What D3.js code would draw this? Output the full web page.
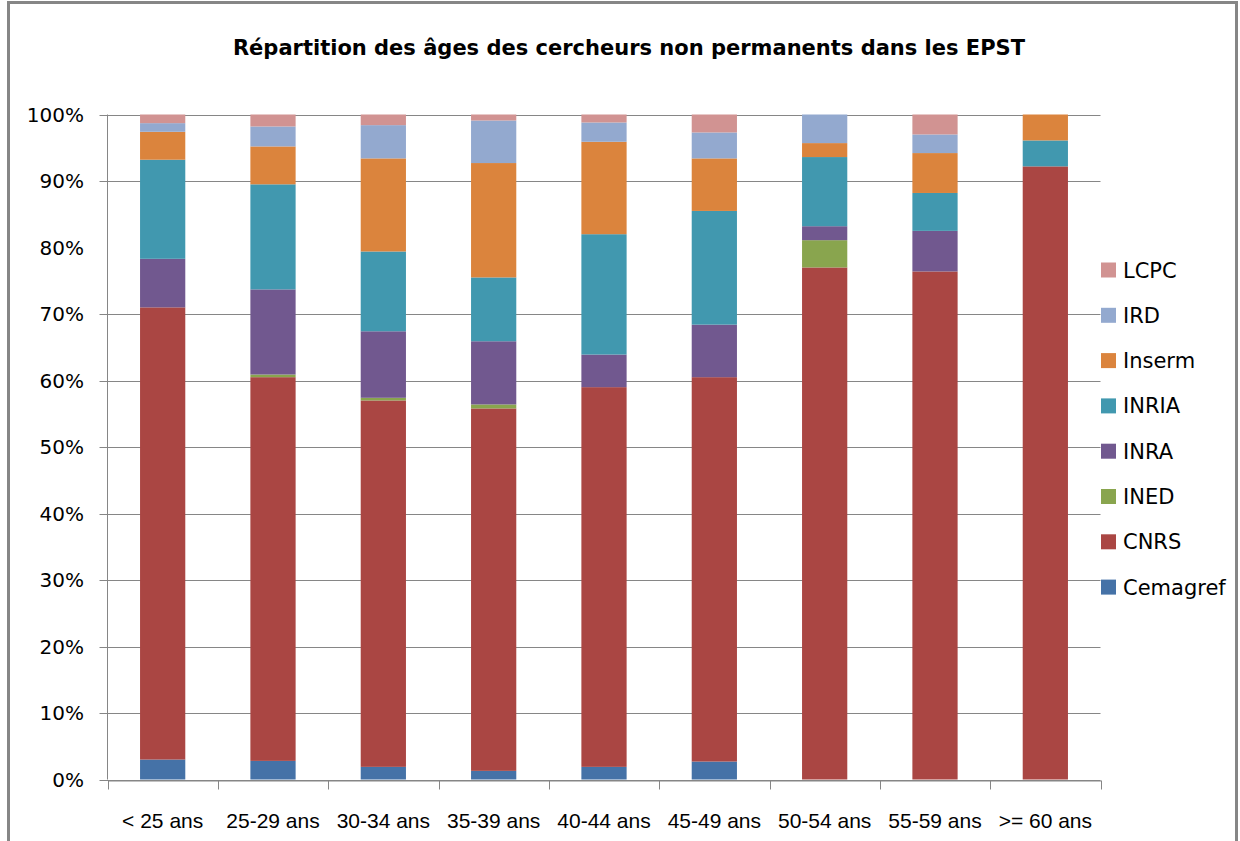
<!DOCTYPE html>
<html>
<head>
<meta charset="utf-8">
<script src="https://cdn.jsdelivr.net/npm/d3@7"></script>
<style>
  body { margin: 0; background: #fff; }
  svg { display: block; }
</style>
</head>
<body>
<div id="chart"></div>
<script>
// categories and series, values in % of each age group
const categories = ['< 25 ans', '25-29 ans', '30-34 ans', '35-39 ans', '40-44 ans',
                    '45-49 ans', '50-54 ans', '55-59 ans', '>= 60 ans'];
const seriesNames = ['Cemagref', 'CNRS', 'INED', 'INRA', 'INRIA', 'Inserm', 'IRD', 'LCPC'];
const cemagref = [3.0, 2.8, 1.9, 1.3, 1.9, 2.7, 0, 0, 0];
const cnrs     = [68.0, 57.7, 55.1, 54.5, 57.1, 57.8, 77.0, 76.4, 92.2];
const ined     = [0, 0.4, 0.4, 0.6, 0, 0, 4.1, 0, 0];
const inra     = [7.3, 12.8, 10.0, 9.5, 4.9, 7.9, 2.1, 6.1, 0];
const inria    = [14.9, 15.8, 12.0, 9.6, 18.1, 17.1, 10.4, 5.7, 3.9];
const inserm   = [4.2, 5.7, 14.0, 17.2, 13.9, 7.9, 2.1, 6.0, 3.9];
const ird      = [1.3, 3.0, 5.0, 6.4, 2.9, 3.9, 4.3, 2.8, 0];
const lcpc     = [1.3, 1.8, 1.6, 0.9, 1.2, 2.7, 0, 3.0, 0];
const yTicks   = [0, 10, 20, 30, 40, 50, 60, 70, 80, 90, 100];
// the 80% gridline does not show in the reference picture
const gridTicks = [0, 10, 20, 30, 40, 50, 60, 70, 90, 100];
const colors = ['#4572A7', '#AA4643', '#89A54E', '#71588F', '#4198AF', '#DB843D', '#93A9CF', '#D19392'];

const width = 1240, height = 841;
const margin = {top: 115, right: 140, bottom: 61, left: 107.5};
const grey = '#868686';

// table for d3.stack
const seriesValues = [cemagref, cnrs, ined, inra, inria, inserm, ird, lcpc];
const table = categories.map((c, i) => {
    let row = {cat: c};
    seriesNames.forEach((s, j) => row[s] = seriesValues[j][i]);
    return row;
});
const stacked = d3.stack().keys(seriesNames)(table);

const svg = d3.select('#chart').append('svg')
    .attr('width', width)
    .attr('height', height);

// outer frame of the chart object
svg.append('rect')
    .attr('x', 8.5).attr('y', 2.5)
    .attr('width', 1228).attr('height', 900)
    .attr('fill', 'none')
    .attr('stroke', grey)
    .attr('stroke-width', 3);

const scaleX = d3.scaleBand()
    .domain(categories)
    .range([margin.left, 1100.5])
    .paddingInner(0.59)
    .paddingOuter(0.295);

const scaleY = d3.scaleLinear()
    .domain([0, 100])
    .range([height - margin.bottom - 0.5, margin.top - 0.5]);

// gridlines
svg.append('g')
    .selectAll('line')
    .data(gridTicks)
    .join('line')
    .attr('x1', margin.left - 8)
    .attr('x2', 1100.5)
    .attr('y1', d => Math.round(scaleY(d)) + 0.5)
    .attr('y2', d => Math.round(scaleY(d)) + 0.5)
    .attr('stroke', grey)
    .attr('stroke-width', 1);

// y labels
svg.append('g')
    .selectAll('text')
    .data(yTicks)
    .join('text')
    .attr('x', 84)
    .attr('y', d => scaleY(d))
    .attr('dy', '0.36em')
    .attr('text-anchor', 'end')
    .style('font-family', '"DejaVu Sans", sans-serif')
    .style('font-size', '20px')
    .attr('fill', '#000')
    .text(d => d + '%');

// bars
svg.append('g')
    .selectAll('g')
    .data(stacked)
    .join('g')
    .attr('fill', (d, i) => colors[i])
    .selectAll('rect')
    .data(d => d)
    .join('rect')
    .attr('x', d => scaleX(d.data.cat))
    .attr('width', scaleX.bandwidth())
    .attr('y', d => scaleY(d[1]))
    .attr('height', d => scaleY(d[0]) - scaleY(d[1]));

// y axis line
svg.append('line')
    .attr('x1', margin.left).attr('x2', margin.left)
    .attr('y1', scaleY(100)).attr('y2', scaleY(0))
    .attr('stroke', grey);

// x axis with ticks between the bands
const axisX = d3.axisBottom(scaleX).tickSize(0).tickPadding(0);
const gx = svg.append('g')
    .attr('transform', `translate(0,${Math.round(scaleY(0)) + 0.5})`)
    .call(axisX);
gx.select('.domain').attr('stroke', grey);
gx.selectAll('text')
    .attr('y', 47)
    .attr('dy', 0)
    .style('font-family', '"Liberation Sans", Arial, sans-serif')
    .style('font-size', '21px')
    .attr('fill', '#000');
const step = scaleX.step();
gx.selectAll('line.sep')
    .data(d3.range(categories.length + 1))
    .join('line')
    .classed('sep', true)
    .attr('x1', i => Math.round(margin.left + i * step) + 0.5)
    .attr('x2', i => Math.round(margin.left + i * step) + 0.5)
    .attr('y1', 0).attr('y2', 9)
    .attr('stroke', grey);

// title
svg.append('text')
    .attr('x', 629)
    .attr('y', 55)
    .attr('text-anchor', 'middle')
    .style('font-family', '"DejaVu Sans", sans-serif')
    .style('font-weight', 'bold')
    .style('font-size', '21px')
    .text('Répartition des âges des cercheurs non permanents dans les EPST');

// legend, top entry is the last series
const legend = svg.append('g')
    .selectAll('g')
    .data(seriesNames.slice().reverse())
    .join('g')
    .attr('transform', (d, i) => `translate(1101,${270 + i * 45.3})`);
legend.append('rect')
    .attr('x', 0).attr('y', -7.5)
    .attr('width', 15).attr('height', 15)
    .attr('fill', d => colors[seriesNames.indexOf(d)]);
legend.append('text')
    .attr('x', 22)
    .attr('dy', '0.36em')
    .style('font-family', '"DejaVu Sans", sans-serif')
    .style('font-size', '21px')
    .text(d => d);
</script>
</body>
</html>
